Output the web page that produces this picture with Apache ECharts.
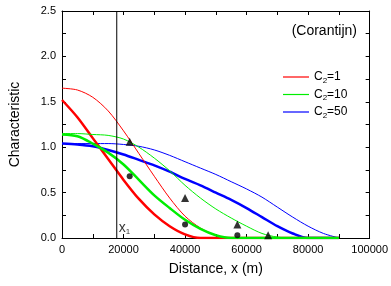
<!DOCTYPE html>
<html>
<head>
<meta charset="utf-8">
<script type="text/javascript" src="https://cdn.jsdelivr.net/npm/echarts/dist/echarts.min.js"></script>
</head>
<body style="margin:0; background:#fff;">
<div id="container" style="width:391px; height:286px;"></div>

<script type="text/javascript">
var distances = [0, 5000, 10000, 15000, 20000, 25000, 30000, 35000, 40000, 45000,
	50000, 55000, 60000, 65000, 70000, 75000, 80000, 85000, 90000];

// thin lines = legend series, thick lines = second run
var redThin    = [1.65, 1.63, 1.55, 1.40, 1.18, 0.93, 0.68, 0.44, 0.24, 0.11, 0.03, 0, 0, 0, 0, 0, 0, 0, 0];
var redThick   = [1.52, 1.33, 1.10, 0.87, 0.64, 0.43, 0.26, 0.13, 0.04, 0, 0, 0, 0, 0, 0, 0, 0, 0, 0];
var greenThin  = [1.15, 1.15, 1.14, 1.13, 1.09, 1.00, 0.88, 0.74, 0.58, 0.44, 0.32, 0.22, 0.13, 0.05, 0.01, 0, 0, 0, 0];
var greenThick = [1.14, 1.12, 1.04, 0.94, 0.81, 0.64, 0.47, 0.33, 0.20, 0.10, 0.03, 0, 0, 0, 0, 0, 0, 0, 0];
var blueThin   = [1.04, 1.04, 1.04, 1.04, 1.03, 1.01, 0.97, 0.91, 0.84, 0.77, 0.70, 0.62, 0.54, 0.45, 0.34, 0.23, 0.13, 0.05, 0];
var blueThick  = [1.04, 1.03, 1.01, 0.97, 0.92, 0.86, 0.80, 0.73, 0.65, 0.58, 0.50, 0.42, 0.33, 0.23, 0.13, 0.05, 0, 0, 0];

var triX = [22000, 40000, 57000, 67000];
var triY = [1.06, 0.44, 0.15, 0.03];
var dotX = [22000, 40000, 57000];
var dotY = [0.68, 0.15, 0.03];

var x1 = 17800;
var legendNames = ['C2=1', 'C2=10', 'C2=50'];

function pairs(xs, ys) {
	var out = [];
	for (var i = 0; i < xs.length; i++) out.push([xs[i], ys[i]]);
	return out;
}

function curve(name, ys, color, width) {
	return {
		name: name,
		type: 'line',
		data: pairs(distances, ys),
		smooth: 0.3,
		symbol: 'none',
		lineStyle: { color: color, width: width },
		itemStyle: { color: color },
		silent: true
	};
}

var dom = document.getElementById('container');
var chart = echarts.init(dom);

var axisFont = { fontFamily: 'Liberation Sans', fontSize: 11, color: '#000' };
var frame = { show: true, onZero: false, lineStyle: { color: '#000', width: 1 } };
var tick = { inside: true, length: 4, lineStyle: { color: '#000' } };
var minor = { show: true, splitNumber: 2, length: 4, lineStyle: { color: '#000' } };

var option = {
	animation: false,
	backgroundColor: '#fff',
	textStyle: { fontFamily: 'Liberation Sans' },
	title: {
		text: '(Corantijn)',
		right: 29,
		top: 19,
		textStyle: { fontFamily: 'Liberation Sans', fontSize: 14, fontWeight: 'normal', color: '#000' }
	},
	legend: {
		data: legendNames,
		orient: 'vertical',
		left: 278,
		top: 66,
		icon: 'rect',
		itemWidth: 26,
		itemHeight: 1.2,
		itemGap: 4,
		formatter: function (name) {
			return '{a|C}{s|2}{a|' + name.slice(2) + '}';
		},
		textStyle: {
			rich: {
				a: { fontFamily: 'Liberation Sans', fontSize: 12, color: '#000', lineHeight: 14 },
				s: { fontFamily: 'Liberation Sans', fontSize: 8, color: '#000', padding: [7, 0, 0, 0] }
			}
		}
	},
	grid: { left: 60, right: 21, top: 11, bottom: 48 },
	xAxis: [{
		type: 'value',
		min: 0,
		max: 100000,
		interval: 20000,
		name: 'Distance, x (m)',
		nameLocation: 'middle',
		nameGap: 24,
		nameTextStyle: { fontFamily: 'Liberation Sans', fontSize: 14, color: '#000' },
		axisLine: frame,
		axisTick: tick,
		minorTick: minor,
		axisLabel: Object.assign({
			margin: 6,
			formatter: function (v) { return String(v); }
		}, axisFont),
		splitLine: { show: false }
	}, {
		type: 'value',
		position: 'top',
		min: 0,
		max: 100000,
		interval: 20000,
		axisLine: frame,
		axisTick: tick,
		minorTick: minor,
		axisLabel: { show: false },
		splitLine: { show: false }
	}],
	yAxis: [{
		type: 'value',
		min: 0,
		max: 2.5,
		interval: 0.5,
		name: 'Characteristic',
		nameLocation: 'middle',
		nameGap: 40,
		nameTextStyle: { fontFamily: 'Liberation Sans', fontSize: 14, color: '#000' },
		axisLine: frame,
		axisTick: tick,
		minorTick: minor,
		axisLabel: Object.assign({
			margin: 6,
			formatter: function (v) { return v.toFixed(1); }
		}, axisFont),
		splitLine: { show: false }
	}, {
		type: 'value',
		position: 'right',
		min: 0,
		max: 2.5,
		interval: 0.5,
		axisLine: frame,
		axisTick: tick,
		minorTick: minor,
		axisLabel: { show: false },
		splitLine: { show: false }
	}],
	series: [
		curve('C2=50 (b)', blueThick, '#0000ff', 2.5),
		curve('C2=50', blueThin, '#0000ff', 1),
		curve('C2=1 (b)', redThick, '#ff0000', 2.5),
		curve('C2=1', redThin, '#ff0000', 1),
		curve('C2=10 (b)', greenThick, '#00ee00', 2.5),
		curve('C2=10', greenThin, '#00ee00', 1),
		{
			name: 'x1',
			type: 'line',
			data: [[x1, 0], [x1, 2.5]],
			symbol: 'none',
			lineStyle: { color: '#000', width: 1 },
			silent: true
		},
		{
			name: 'x1 label',
			type: 'scatter',
			data: [[x1, 0]],
			symbolSize: 0,
			label: {
				show: true,
				position: [2, -18],
				formatter: '{a|x}{s|1}',
				rich: {
					a: { fontFamily: 'Liberation Sans', fontSize: 14, color: '#000' },
					s: { fontFamily: 'Liberation Sans', fontSize: 8, color: '#000', padding: [8, 0, 0, 0] }
				}
			},
			silent: true
		},
		{
			name: 'triangles',
			type: 'scatter',
			data: pairs(triX, triY),
			symbol: 'triangle',
			symbolSize: 8,
			itemStyle: { color: '#000' },
			z: 5
		},
		{
			name: 'circles',
			type: 'scatter',
			data: pairs(dotX, dotY),
			symbol: 'circle',
			symbolSize: 6,
			itemStyle: { color: '#000' },
			z: 5
		}
	]
};

chart.setOption(option);
</script>
</body>
</html>
